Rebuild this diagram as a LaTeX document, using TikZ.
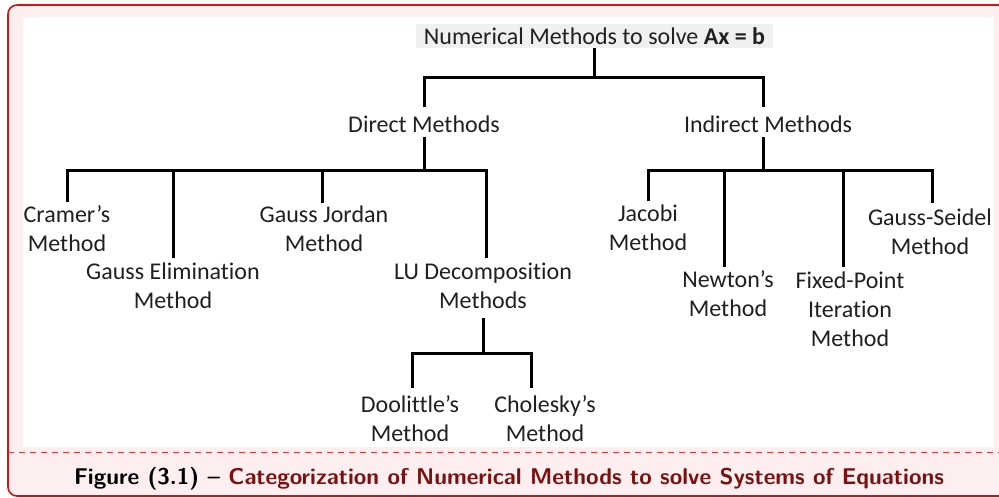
\documentclass[tikz,border=0pt]{standalone}
\usepackage{fontspec}
\newfontfamily\calfont[RawFeature=-liga]{Carlito}
\definecolor{framered}{HTML}{CC1414}
\definecolor{pinkbg}{HTML}{FDEFEF}
\definecolor{captred}{HTML}{7A1010}
\definecolor{dashred}{HTML}{E03A3A}
\definecolor{txt}{HTML}{202020}
\begin{document}
\begin{tikzpicture}[x=1pt,y=-1pt,
  tree/.style={line width=3pt, draw=black},
  lbl/.style={font=\calfont\fontsize{24}{29}\selectfont, align=center, inner sep=0pt, text=txt}]
\useasboundingbox (0,0) rectangle (999,498);
\begin{scope}
\clip (0,0) rectangle (999,498);
\draw[framered, fill=pinkbg, line width=1.6pt, rounded corners=9pt] (8,5) rectangle (1030,496);
\end{scope}
\fill[white] (23,17) rectangle (994,447);
\draw[dashred, dash pattern=on 6pt off 5pt, line width=1pt] (8,452) -- (999,452);
\node[font=\sffamily\bfseries\fontsize{22.8}{26}\selectfont, inner sep=0pt] (cap) at (509,479)
  {Figure (3.1) -- \textcolor{captred}{Categorization of Numerical Methods to solve Systems of Equations}};

% nodes
\node[lbl, fill=black!6, minimum width=357pt, minimum height=24pt] (top) at (594.5,36) {Numerical Methods to solve \textbf{Ax = b}};
\node[lbl] (direct) at (424,124) {Direct Methods};
\node[lbl] (indirect) at (768,124) {Indirect Methods};
\node[lbl] (cramer) at (67,228.5) {Cramer’s\\Method};
\node[lbl] (gelim) at (173,285.5) {Gauss Elimination\\Method};
\node[lbl] (gjordan) at (324,228.5) {Gauss Jordan\\Method};
\node[lbl] (lu) at (483,285.5) {LU Decomposition\\Methods};
\node[lbl] (doo) at (410,419) {Doolittle’s\\Method};
\node[lbl] (chol) at (545,419) {Cholesky’s\\Method};
\node[lbl] (jacobi) at (648,227.5) {Jacobi\\Method};
\node[lbl] (newton) at (728,294) {Newton’s\\Method};
\node[lbl] (fixed) at (850,309) {Fixed-Point\\Iteration\\Method};
\node[lbl] (gseidel) at (930,232) {Gauss-Seidel\\Method};

% connectors
\coordinate (b0) at (594,77);
\draw[tree] (top.south -| b0) -- (b0);
\draw[tree] (424,107) |- (763,77) -- (763,107);
\draw[tree] (direct.south -| 424,0) ++(0,4) -- (424,170);
\draw[tree] (67,202) |- (486,170) -- (486,258);
\draw[tree] (173,170) -- (173,258);
\draw[tree] (322,170) -- (322,203);
\draw[tree] (indirect.south -| 763,0) ++(0,4) -- (763,170);
\draw[tree] (648,201) |- (932,170) -- (932,203);
\draw[tree] (724,170) -- (724,267);
\draw[tree] (843,170) -- (843,267);
\draw[tree] (483,318) -- (483,353);
\draw[tree] (412,388) |- (531,353) -- (531,388);
\end{tikzpicture}
\end{document}
